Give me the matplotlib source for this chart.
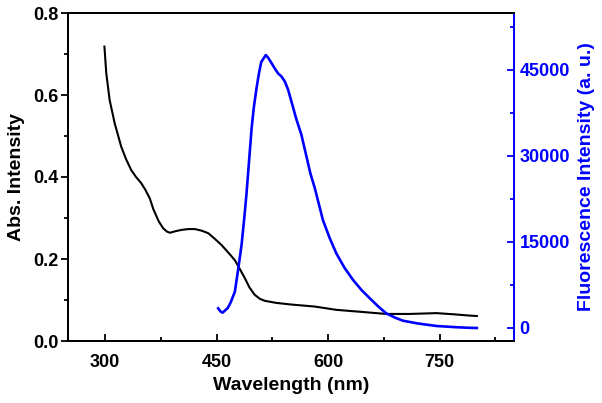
import matplotlib
matplotlib.use("Agg")
import matplotlib.pyplot as plt
from matplotlib.ticker import MultipleLocator, FormatStrFormatter, FixedLocator

plt.rcParams['font.family'] = ['Liberation Sans', 'DejaVu Sans']
plt.rcParams['font.weight'] = 'bold'

abs_wl = [299, 301.5, 306, 312.8, 321.6, 328, 335, 341.5, 348.5, 354, 360, 364.7, 372, 378, 383,
          387, 395, 402.8, 412, 420.7, 430, 438.6, 447, 456.6, 466, 474.5, 481, 488, 494, 501,
          508, 514.8, 530, 550, 582, 611, 645, 678, 710, 745.6, 770, 790, 800]
abs_val = [0.718, 0.653, 0.588, 0.531, 0.474, 0.444, 0.417, 0.400, 0.385, 0.369, 0.348, 0.322,
           0.292, 0.275, 0.267, 0.264, 0.268, 0.271, 0.273, 0.273, 0.269, 0.263, 0.250, 0.234,
           0.215, 0.197, 0.176, 0.153, 0.131, 0.113, 0.103, 0.098, 0.093, 0.089, 0.084, 0.076,
           0.071, 0.066, 0.066, 0.068, 0.065, 0.062, 0.061]

fl_wl = [452, 455, 458, 465, 469, 474.5, 479, 483.5, 487, 490, 493.5, 497, 500, 503.6, 507,
         510, 513, 516, 519, 523.8, 528, 532.6, 537, 541.7, 546, 550.6, 557, 564, 571, 576,
         582, 593, 602, 611, 622, 633.5, 645, 656, 667, 678, 690, 700.6, 720, 745.6, 770,
         790, 800]
fl_val = [3430, 2900, 2670, 3500, 4500, 6330, 10300, 14500, 19000, 23200, 29000, 34800, 38500,
          41800, 44500, 46400, 47000, 47600, 47200, 46200, 45300, 44400, 43900, 43000, 41600,
          39500, 36500, 33700, 29800, 27000, 24400, 18800, 15700, 13000, 10500, 8370, 6600,
          5180, 3800, 2560, 1800, 1270, 800, 350, 150, 30, 0]

fl_ticks = [0, 15000, 30000, 45000]

fig = plt.figure(figsize=(6.02, 4.03), dpi=100)
ax = fig.add_axes([68/602, 1-341/403, (514-68)/602, (341-13)/403])
ax2 = ax.twinx()

ax.plot(abs_wl, abs_val, color='black', lw=1.5)
ax2.plot(fl_wl, fl_val, color='#0000ff', lw=1.9)

ax.set_xlim(250, 850)
ax.set_ylim(0, 0.8)
ax2.set_ylim(-2270, 54940)

ax.xaxis.set_major_locator(MultipleLocator(150))
ax.xaxis.set_minor_locator(MultipleLocator(75))
ax.yaxis.set_major_locator(MultipleLocator(0.2))
ax.yaxis.set_minor_locator(MultipleLocator(0.1))
ax.yaxis.set_major_formatter(FormatStrFormatter('%.1f'))
ax2.yaxis.set_major_locator(FixedLocator(fl_ticks))
ax2.yaxis.set_minor_locator(MultipleLocator(7500))

ax.tick_params(axis='x', which='major', direction='in', length=5, width=1.3, labelsize=13, pad=9.5)
ax.tick_params(axis='x', which='minor', direction='in', length=3, width=1.3)
ax.tick_params(axis='y', which='major', direction='out', length=5, width=1.3, labelsize=13, pad=1.5)
ax.tick_params(axis='y', which='minor', direction='out', length=3, width=1.3)
ax2.tick_params(axis='y', which='major', direction='in', length=5, width=1.3, labelsize=13,
                colors='#0000ff', pad=4)
ax2.tick_params(axis='y', which='minor', direction='in', length=3, width=1.3, colors='#0000ff')

for s in ['left', 'bottom', 'top']:
    ax.spines[s].set_linewidth(1.4)
    ax2.spines[s].set_linewidth(1.4)
ax2.spines['right'].set_linewidth(1.4)
ax2.spines['right'].set_color('#0000ff')
ax.spines['right'].set_visible(False)

ax.set_xlabel('Wavelength (nm)', fontsize=14, fontweight='bold', labelpad=4)
ax.set_ylabel('Abs. Intensity', fontsize=14, fontweight='bold', labelpad=6)
ax2.set_ylabel('Fluorescence Intensity (a. u.)', fontsize=14, fontweight='bold',
               color='#0000ff', labelpad=6)

fig.savefig('out.png', dpi=100)
